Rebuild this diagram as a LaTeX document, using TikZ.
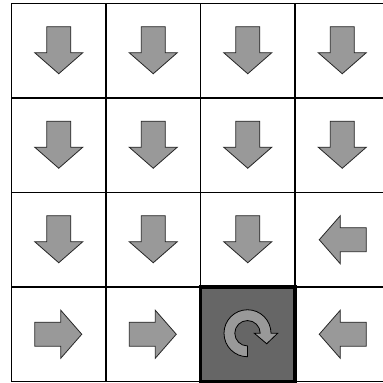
\documentclass[tikz,border=0pt]{standalone}
\definecolor{arrowfill}{HTML}{999999}
\definecolor{arrowline}{HTML}{262626}
\definecolor{goalfill}{HTML}{666666}
\tikzset{
  x=1pt,y=1pt,
  cell/.style={draw=black,line width=1.5pt,minimum size=94.5pt,inner sep=0pt,outer sep=0pt},
  goalcell/.style={cell,fill=goalfill,line width=3.5pt},
  arrowshape/.style={fill=arrowfill,draw=arrowline,line width=0.8pt,line join=miter},
  pics/dirarrow/.style={code={
    \path[arrowshape] (-12,24) -- (12,24) -- (12,-2) -- (24,-2) -- (0,-23) -- (-24,-2) -- (-12,-2) -- cycle;
  }},
  pics/looparrow/.style={code={
    \path[arrowshape,draw=black] (0,-12.7) -- (0,-23.5) arc[start angle=270,end angle=0,radius=23.5]
      -- (30.2,0) -- (19.2,-10.5) -- (6.8,0) -- (12.7,0)
      arc[start angle=0,end angle=270,radius=12.7] -- cycle;
  }}
}
\begin{document}
\begin{tikzpicture}
\useasboundingbox (0,0) rectangle (383,383);
\clip (0,0) rectangle (383,383);
\fill[white] (0,0) rectangle (383,383);
% cells: columns x = 58.75,153.25,247.75,342.25 ; rows y = 332.25,237.75,143.25,48.75
\foreach \r/\y in {1/332.25,2/237.75,3/143.25,4/48.75}{
  \foreach \c/\x in {1/58.75,2/153.25,3/247.75,4/342.25}{
    \node[cell] (c\r\c) at (\x,\y) {};
  }
}
\node[goalcell] (c43) at (247.75,48.75) {};
% arrows
\foreach \n in {c11,c12,c13,c14,c21,c22,c23,c24,c31,c32,c33}{
  \pic at (\n) {dirarrow};
}
\pic[rotate=-90] at (c34) {dirarrow};
\pic[rotate=-90] at (c44) {dirarrow};
\pic[rotate=90] at (c41) {dirarrow};
\pic[rotate=90] at (c42) {dirarrow};
\pic at ([shift={(-0.25,1)}]c43) {looparrow};
\end{tikzpicture}
\end{document}
